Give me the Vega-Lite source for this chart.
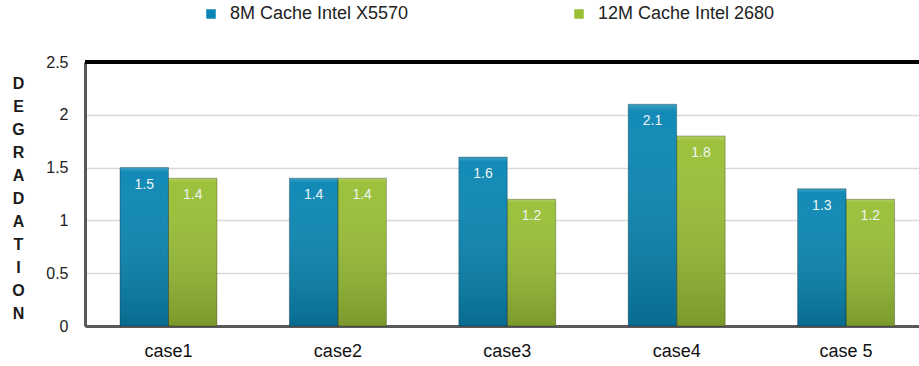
{
  "$schema": "https://vega.github.io/schema/vega-lite/v6.json",
  "autosize": "none",
  "width": 834,
  "height": 264,
  "padding": {"left": 85, "top": 62, "right": 0, "bottom": 40},
  "background": "white",
  "config": {
    "view": {"stroke": null},
    "font": "Liberation Sans"
  },
  "data": {
    "values": [
      {"case": "case1", "series": "8M Cache Intel X5570", "value": 1.5},
      {"case": "case1", "series": "12M Cache Intel 2680", "value": 1.4},
      {"case": "case2", "series": "8M Cache Intel X5570", "value": 1.4},
      {"case": "case2", "series": "12M Cache Intel 2680", "value": 1.4},
      {"case": "case3", "series": "8M Cache Intel X5570", "value": 1.6},
      {"case": "case3", "series": "12M Cache Intel 2680", "value": 1.2},
      {"case": "case4", "series": "8M Cache Intel X5570", "value": 2.1},
      {"case": "case4", "series": "12M Cache Intel 2680", "value": 1.8},
      {"case": "case 5", "series": "8M Cache Intel X5570", "value": 1.3},
      {"case": "case 5", "series": "12M Cache Intel 2680", "value": 1.2}
    ]
  },
  "layer": [
    {
      "mark": {"type": "bar"},
      "encoding": {
        "x": {
          "field": "case",
          "type": "nominal",
          "sort": null,
          "scale": {"paddingInner": 0.4274, "paddingOuter": 0.1753, "align": 0.589},
          "axis": {
            "title": null,
            "labelAngle": 0,
            "ticks": false,
            "labelPadding": 16,
            "labelFontSize": 18,
            "labelColor": "#111111",
            "domainColor": "#595959",
            "domainWidth": 3
          }
        },
        "xOffset": {
          "field": "series",
          "type": "nominal",
          "sort": ["8M Cache Intel X5570", "12M Cache Intel 2680"],
          "scale": {"paddingInner": 0, "paddingOuter": 0}
        },
        "y": {
          "field": "value",
          "type": "quantitative",
          "scale": {"domain": [0, 2.5], "nice": false},
          "axis": {
            "values": [0, 0.5, 1, 1.5, 2, 2.5],
            "format": ".1~f",
            "ticks": false,
            "labelPadding": 17,
            "labelFontSize": 16,
            "labelColor": "#222222",
            "domainColor": "#595959",
            "domainWidth": 3,
            "gridColor": "#d9d9d9",
            "gridWidth": 1.5,
            "title": ["D", "E", "G", "R", "A", "D", "A", "T", "I", "O", "N"],
            "titleAngle": 0,
            "titleAlign": "center",
            "titleBaseline": "top",
            "titleX": -67,
            "titleY": 13,
            "titleLineHeight": 23,
            "titleFontSize": 16,
            "titleFontWeight": "bold",
            "titleColor": "#1a1a1a"
          }
        },
        "color": {
          "field": "series",
          "type": "nominal",
          "sort": ["8M Cache Intel X5570", "12M Cache Intel 2680"],
          "scale": {"range": ["#0986b3", "#98bf35"]},
          "legend": {
            "title": null,
            "orient": "none",
            "direction": "horizontal",
            "legendX": 117,
            "legendY": -57,
            "padding": 0,
            "symbolType": "square",
            "symbolSize": 90,
            "symbolStrokeWidth": 0,
            "labelOffset": 10,
            "labelFontSize": 18,
            "labelLimit": 400,
            "labelColor": "#222222",
            "columnPadding": 161
          }
        }
      }
    },
    {
      "mark": {
        "type": "bar",
        "stroke": "rgba(0,0,0,0.25)",
        "strokeWidth": 1,
        "fill": {
          "gradient": "linear",
          "x1": 0, "y1": 0, "x2": 0, "y2": 1,
          "stops": [
            {"offset": 0, "color": "rgba(255,255,255,0.22)"},
            {"offset": 0.03, "color": "rgba(255,255,255,0.04)"},
            {"offset": 1, "color": "rgba(0,0,0,0.2)"}
          ]
        }
      },
      "encoding": {
        "x": {"field": "case", "type": "nominal", "sort": null},
        "xOffset": {"field": "series", "type": "nominal", "sort": ["8M Cache Intel X5570", "12M Cache Intel 2680"]},
        "y": {"field": "value", "type": "quantitative"}
      }
    },
    {
      "mark": {"type": "rule", "color": "#000000", "strokeWidth": 3},
      "encoding": {
        "y": {"datum": 2.5, "type": "quantitative"}
      }
    },
    {
      "mark": {
        "type": "text",
        "baseline": "middle",
        "dy": 17,
        "fontSize": 14,
        "color": "#eef5f5"
      },
      "encoding": {
        "x": {"field": "case", "type": "nominal", "sort": null},
        "xOffset": {"field": "series", "type": "nominal", "sort": ["8M Cache Intel X5570", "12M Cache Intel 2680"]},
        "y": {"field": "value", "type": "quantitative"},
        "text": {"field": "value", "type": "quantitative", "format": ".1f"}
      }
    }
  ]
}
